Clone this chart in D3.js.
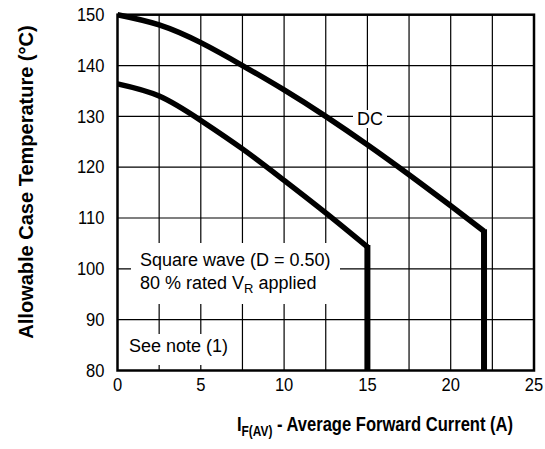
<!DOCTYPE html>
<html><head><meta charset="utf-8">
<script src="https://cdn.jsdelivr.net/npm/d3@7"></script>
<style>
html,body{margin:0;padding:0;background:#fff;}
svg{display:block;font-family:"Liberation Sans",Arial,Helvetica,sans-serif;}
</style></head>
<body><svg id="chart" width="545" height="449"></svg>
<script>
// Data
const currentA = [0, 2.5, 5, 7.5, 10, 12.5, 15, 17.5, 20, 22];
const dcTemp = [150, 148.0, 144.5, 140.0, 135.2, 130.0, 124.4, 118.5, 112.4, 107.4];
const sqCurrent = [0, 2.5, 5, 7.5, 10, 12.5, 15];
const sqTemp = [136.4, 134.0, 129.2, 123.6, 117.4, 111.0, 104.3];
const xTicks = [0, 5, 10, 15, 20, 25];
const yTicks = [80, 90, 100, 110, 120, 130, 140, 150];
const xGrid = [2.5, 5, 7.5, 10, 12.5, 15, 17.5, 20, 22.5];
const yGrid = [90, 100, 110, 120, 130, 140];

const svg = d3.select("#chart");
const x = d3.scaleLinear().domain([0, 25]).range([117.5, 534]);
const y = d3.scaleLinear().domain([80, 150]).range([370.5, 14.7]);

// grid
svg.append("g").selectAll("line").data(xGrid).join("line")
  .attr("x1", d => x(d)).attr("x2", d => x(d)).attr("y1", y(150)).attr("y2", y(80))
  .attr("stroke", "#000").attr("stroke-width", 1.2);
svg.append("g").selectAll("line").data(yGrid).join("line")
  .attr("x1", x(0)).attr("x2", x(25)).attr("y1", d => y(d)).attr("y2", d => y(d))
  .attr("stroke", "#000").attr("stroke-width", 1.2);

// white label backgrounds
const bg = svg.append("g").attr("fill", "#fff");
bg.append("rect").attr("x", 353).attr("y", 110).attr("width", 34).attr("height", 18);
bg.append("rect").attr("x", 131).attr("y", 243).attr("width", 209).attr("height", 61);
bg.append("rect").attr("x", 125).attr("y", 334).attr("width", 110).attr("height", 31);

// frame
svg.append("rect").attr("x", x(0)).attr("y", y(150)).attr("width", x(25) - x(0)).attr("height", y(80) - y(150))
  .attr("fill", "none").attr("stroke", "#000").attr("stroke-width", 2.5);

// curves
const line = d3.line().x(d => x(d[0])).y(d => y(d[1])).curve(d3.curveNatural);
function drawSeries(xs, ys) {
  const pts = xs.map((v, i) => [v, ys[i]]);
  svg.append("path").attr("d", line(pts)).attr("fill", "none").attr("stroke", "#000")
    .attr("stroke-width", 5.5).attr("stroke-linejoin", "round");
  const last = pts[pts.length - 1];
  svg.append("line").attr("x1", x(last[0])).attr("x2", x(last[0]))
    .attr("y1", y(last[1]) - 2).attr("y2", y(80))
    .attr("stroke", "#000").attr("stroke-width", 6);
}
drawSeries(currentA, dcTemp);
drawSeries(sqCurrent, sqTemp);

// tick labels
svg.append("g").selectAll("text").data(xTicks).join("text")
  .attr("transform", d => `translate(${x(d)},391) scale(0.92,1)`)
  .attr("text-anchor", "middle").attr("font-size", 18).text(d => d);
svg.append("g").selectAll("text").data(yTicks).join("text")
  .attr("transform", d => `translate(104.5,${y(d) + 6.3}) scale(0.92,1)`)
  .attr("text-anchor", "end").attr("font-size", 18).text(d => d);

// annotations
svg.append("text").attr("x", 370).attr("y", 124.5).attr("text-anchor", "middle").attr("font-size", 18).text("DC");
svg.append("text").attr("x", 140).attr("y", 266).attr("font-size", 18).text("Square wave (D = 0.50)");
const t2 = svg.append("text").attr("x", 140).attr("y", 289).attr("font-size", 18);
t2.append("tspan").text("80 % rated V");
t2.append("tspan").attr("font-size", 13).attr("dy", 4).text("R");
t2.append("tspan").attr("dy", -4).text(" applied");
svg.append("text").attr("x", 129).attr("y", 352).attr("font-size", 18).text("See note (1)");

// axis titles
const xt = svg.append("text").attr("transform", "translate(375,431) scale(0.85,1)").attr("text-anchor", "middle")
  .attr("font-size", 19.5).attr("font-weight", "bold");
xt.append("tspan").text("I");
xt.append("tspan").attr("font-size", 14).attr("dy", 5).text("F(AV)");
xt.append("tspan").attr("dy", -5).text(" - Average Forward Current (A)");

svg.append("text").attr("transform", "translate(33,182) rotate(-90)").attr("text-anchor", "middle")
  .attr("font-size", 20).attr("font-weight", "bold").text("Allowable Case Temperature (°C)");
</script></body></html>
